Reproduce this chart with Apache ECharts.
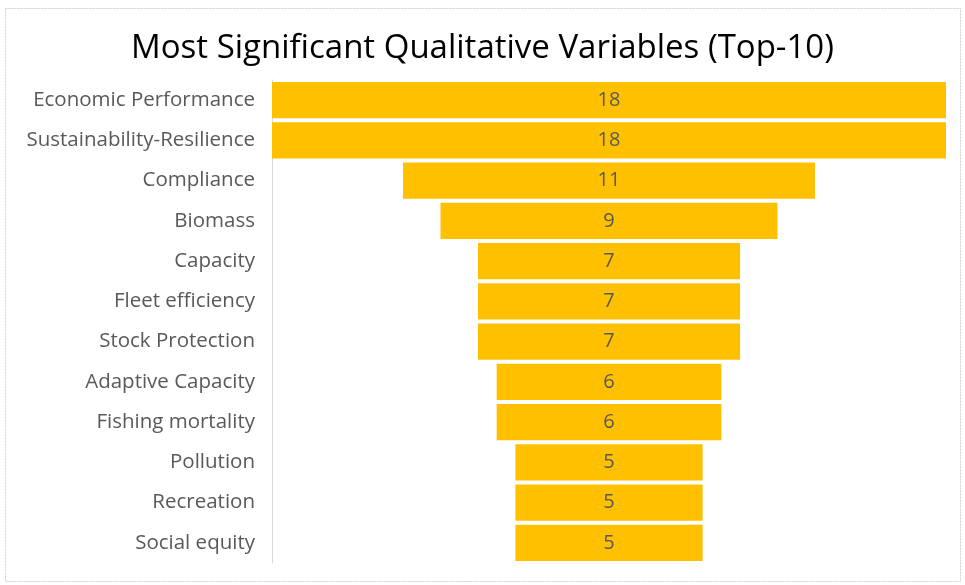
<!DOCTYPE html>
<html>
<head>
<meta charset="utf-8">
<script src="https://cdn.jsdelivr.net/npm/echarts@6/dist/echarts.min.js"></script>
<style>
  html, body { margin: 0; padding: 0; background: #ffffff; }
  #chart { width: 965px; height: 585px; }
</style>
</head>
<body>
<div id="chart"></div>
<script>
// Qualitative variables, ordered from most to least cited
const categories = [
  'Economic Performance',
  'Sustainability-Resilience',
  'Compliance',
  'Biomass',
  'Capacity',
  'Fleet efficiency',
  'Stock Protection',
  'Adaptive Capacity',
  'Fishing mortality',
  'Pollution',
  'Recreation',
  'Social equity'
];
const counts = [18, 18, 11, 9, 7, 7, 7, 6, 6, 5, 5, 5];

const maxCount = Math.max(...counts);
// Transparent spacer that centres each bar, giving the funnel shape
const spacer = counts.map(v => (maxCount - v) / 2);

const chart = echarts.init(document.getElementById('chart'));
chart.setOption({
  animation: false,
  backgroundColor: '#ffffff',
  title: {
    text: 'Most Significant Qualitative Variables (Top-10)',
    left: 'center',
    top: 27,
    textStyle: {
      fontFamily: 'Open Sans',
      fontWeight: 'normal',
      fontSize: 33,
      color: '#000000'
    }
  },
  graphic: [{
    type: 'rect',
    shape: { x: 5.5, y: 8.5, width: 955, height: 573 },
    style: { fill: 'none', stroke: '#d0d0d0', lineWidth: 1, lineDash: [2, 1] },
    silent: true
  }],
  grid: { left: 272, top: 80, width: 674, height: 483 },
  xAxis: {
    type: 'value',
    min: 0,
    max: maxCount,
    show: false
  },
  yAxis: {
    type: 'category',
    inverse: true,
    data: categories,
    axisLine: { show: true, lineStyle: { color: '#d9d9d9', width: 1 } },
    axisTick: { show: false },
    axisLabel: {
      margin: 17,
      fontFamily: 'Open Sans',
      fontSize: 20.5,
      color: '#595959'
    }
  },
  series: [
    {
      type: 'bar',
      stack: 'funnel',
      data: spacer,
      itemStyle: { color: 'transparent' },
      barCategoryGap: '10%',
      silent: true
    },
    {
      type: 'bar',
      stack: 'funnel',
      data: counts,
      barCategoryGap: '10%',
      itemStyle: { color: '#FFC000' },
      label: {
        show: true,
        position: 'inside',
        fontFamily: 'Open Sans',
        fontSize: 20,
        color: '#595959'
      }
    }
  ]
});
</script>
</body>
</html>
